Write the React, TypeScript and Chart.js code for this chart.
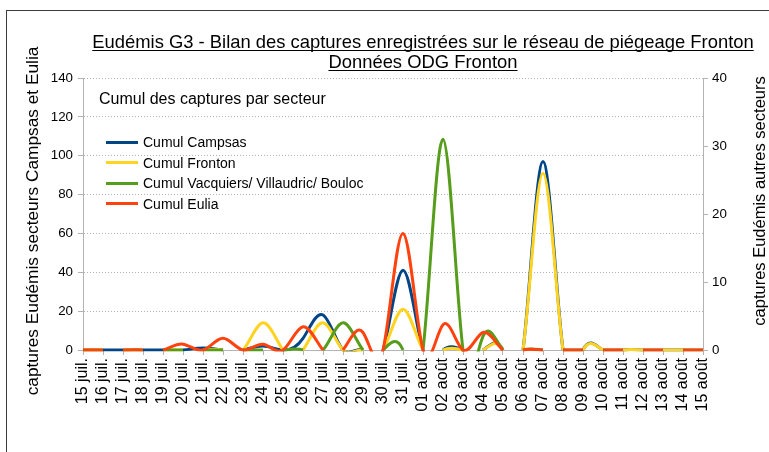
import React, { useEffect, useRef } from 'react';
import { Chart, registerables } from 'chart.js';

Chart.register(...registerables);

const FONT = '"Liberation Sans", Arial, Helvetica, sans-serif';

const titleLines = [
  'Eudémis G3 - Bilan des captures enregistrées sur le réseau de piégeage Fronton',
  'Données ODG Fronton',
];
const subtitle = 'Cumul des captures par secteur';
const leftAxisTitle = 'captures Eudémis secteurs Campsas et Eulia';
const rightAxisTitle = 'captures Eudémis autres secteurs';

const dates = [
  '15 juil.', '16 juil.', '17 juil.', '18 juil.', '19 juil.', '20 juil.', '21 juil.', '22 juil.',
  '23 juil.', '24 juil.', '25 juil.', '26 juil.', '27 juil.', '28 juil.', '29 juil.', '30 juil.',
  '31 juil.', '01 août', '02 août', '03 août', '04 août', '05 août', '06 août', '07 août',
  '08 août', '09 août', '10 août', '11 août', '12 août', '13 août', '14 août', '15 août',
];

// left axis (Campsas, Eulia)
const campsas = [0, 0, 0, 0, 0, 0, 1, 0, 0, 2, 0, 6, 18, 0, 0, 0, 41, 0, 0, 0, 0, 0, 0, 97, 0, 0, 0, 0, 0, 0, 0, 0];
const eulia = [0, 0, 0, 0, 0, 3, 0, 6, 0, 3, 0, 12, 0, 0, 9, 0, 60, 0, 13, 0, 9, 0, 0, 0, 0, 0, 0, 0, 0, 0, 0, 0];
// right axis (Fronton, Vacquiers)
const fronton = [0, 0, 0, 0, 0, 0, 0, 0, 0, 4, 0, 0, 4, 0, 0, 0, 6, 0, 0, 0, 0, 0, 0, 26, 0, 0, 0, 0, 0, 0, 0, 0];
const vacquiers = [0, 0, 0, 0, 0, 0, 0, 0, 0, 0, 0, 0, 0, 4, 0, 0, 0, 0, 31, 0, 2, 0, 0, 0, 0, 0, 0, 0, 0, 0, 0, 0];

const leftMax = 140;
const leftStep = 20;
const rightMax = 40;
const rightStep = 10;

const seriesNames = ['Cumul Campsas', 'Cumul Fronton', 'Cumul Vacquiers/ Villaudric/ Bouloc', 'Cumul Eulia'];
const seriesColors = ['#004586', '#ffd320', '#579d1c', '#ff420e'];

// natural cubic spline second derivatives (uniform spacing h)
function naturalM(y: number[], h: number): number[] {
  const n = y.length;
  const M = new Array(n).fill(0);
  if (n < 3) return M;
  const m = n - 2;
  const cp = new Array(m);
  const dp = new Array(m);
  const d: number[] = [];
  for (let i = 1; i <= n - 2; i++) d.push((6 * (y[i - 1] - 2 * y[i] + y[i + 1])) / (h * h));
  cp[0] = 1 / 4;
  dp[0] = d[0] / 4;
  for (let i = 1; i < m; i++) {
    const den = 4 - cp[i - 1];
    cp[i] = 1 / den;
    dp[i] = (d[i] - dp[i - 1]) / den;
  }
  const x = new Array(m);
  x[m - 1] = dp[m - 1];
  for (let i = m - 2; i >= 0; i--) x[i] = dp[i] - cp[i] * x[i + 1];
  for (let i = 0; i < m; i++) M[i + 1] = x[i];
  return M;
}

// spline segments lying entirely below the zero line are clipped away
function hiddenSegments(y: number[]): boolean[] {
  const M = naturalM(y, 1);
  const res: boolean[] = [];
  for (let k = 0; k < y.length - 1; k++) {
    let max = -Infinity;
    for (let s = 1; s < 50; s++) {
      const t = s / 50;
      const A = 1 - t;
      const B = t;
      const v = A * y[k] + B * y[k + 1] + ((A * A * A - A) * M[k] + (B * B * B - B) * M[k + 1]) / 6;
      if (v > max) max = v;
    }
    res.push(max <= 0 && y[k] === 0 && y[k + 1] === 0);
  }
  return res;
}

const naturalSplinePlugin = {
  id: 'naturalSpline',
  beforeDatasetDraw(chart: any, args: any) {
    const meta = args.meta;
    const line = meta.dataset;
    const pts = meta.data;
    if (!line || !pts || pts.length < 3) return;
    if (line.updateControlPoints) line.updateControlPoints(chart.chartArea, 'x');
    const ys = pts.map((p: any) => p.y);
    const h = pts[1].x - pts[0].x;
    const M = naturalM(ys, h);
    const n = ys.length;
    for (let i = 0; i < n; i++) {
      let D;
      if (i < n - 1) D = (ys[i + 1] - ys[i]) / h - (h * (2 * M[i] + M[i + 1])) / 6;
      else D = (ys[n - 1] - ys[n - 2]) / h + (h * (M[n - 2] + 2 * M[n - 1])) / 6;
      const p = pts[i];
      p.cp1x = p.x - h / 3;
      p.cp1y = p.y - (D * h) / 3;
      p.cp2x = p.x + h / 3;
      p.cp2y = p.y + (D * h) / 3;
    }
  },
};

const decorPlugin = {
  id: 'decor',
  beforeDraw(chart: any) {
    const ctx = chart.ctx;
    ctx.save();
    ctx.fillStyle = '#ffffff';
    ctx.fillRect(0, 0, chart.width, chart.height);
    ctx.strokeStyle = '#3c3c3c';
    ctx.lineWidth = 1;
    ctx.strokeRect(6.5, 10.5, 900, 900);
    ctx.restore();
  },
  afterDraw(chart: any) {
    const ctx = chart.ctx;
    ctx.save();
    // title
    ctx.fillStyle = '#000';
    ctx.strokeStyle = '#000';
    ctx.font = `18.4px ${FONT}`;
    ctx.textAlign = 'center';
    ctx.textBaseline = 'alphabetic';
    const tx = 423;
    const baselines = [48, 68];
    titleLines.forEach((t, i) => {
      ctx.fillText(t, tx, baselines[i]);
      const w = ctx.measureText(t).width;
      ctx.lineWidth = 1;
      ctx.beginPath();
      ctx.moveTo(tx - w / 2, baselines[i] + 2.5);
      ctx.lineTo(tx + w / 2, baselines[i] + 2.5);
      ctx.stroke();
    });
    // subtitle inside plot
    ctx.textAlign = 'left';
    ctx.font = `16px ${FONT}`;
    ctx.fillText(subtitle, 99, 104);
    // legend
    ctx.font = `14px ${FONT}`;
    chart.data.datasets.forEach((ds: any, i: number) => {
      const by = 147.3 + i * 20.4;
      const cy = Math.round(by - 5.5) + 0.5;
      ctx.strokeStyle = ds.borderColor;
      ctx.lineWidth = 3;
      ctx.beginPath();
      ctx.moveTo(106, cy);
      ctx.lineTo(138, cy);
      ctx.stroke();
      ctx.fillStyle = '#000';
      ctx.fillText(ds.label, 143, by);
    });
    // axis titles
    ctx.textAlign = 'center';
    ctx.font = `17.3px ${FONT}`;
    ctx.save();
    ctx.translate(38, 221);
    ctx.rotate(-Math.PI / 2);
    ctx.fillText(leftAxisTitle, 0, 0);
    ctx.restore();
    ctx.font = `16.5px ${FONT}`;
    ctx.save();
    ctx.translate(765, 201);
    ctx.rotate(-Math.PI / 2);
    ctx.fillText(rightAxisTitle, 0, 0);
    ctx.restore();
    ctx.restore();
  },
};

export default function App() {
  const ref = useRef<HTMLCanvasElement | null>(null);
  useEffect(() => {
    if (!ref.current) return;
    const series = [campsas, fronton, vacquiers, eulia];
    const axes = ['y', 'y1', 'y1', 'y'];
    const orders = [3, 2, 1, 0];
    const datasets = series.map((data, i) => {
      const hidden = hiddenSegments(data);
      return {
        label: seriesNames[i],
        data,
        yAxisID: axes[i],
        order: orders[i],
        borderColor: seriesColors[i],
        backgroundColor: seriesColors[i],
        borderWidth: 3,
        pointRadius: 0,
        pointHoverRadius: 0,
        tension: 0.4,
        fill: false,
        clip: { left: 2, right: 2, top: 2, bottom: 1.5 },
        segment: {
          borderColor: (c: any) => (hidden[c.p0DataIndex] ? 'rgba(0,0,0,0)' : undefined),
        },
      };
    });
    const tickFont = { family: FONT, size: 13.33 };
    const chart = new Chart(ref.current, {
      type: 'line',
      data: { labels: dates, datasets: datasets as any },
      plugins: [naturalSplinePlugin, decorPlugin],
      options: {
        animation: false,
        responsive: false,
        events: [],
        layout: { padding: { top: 78, left: 0, right: 0, bottom: 0 } },
        plugins: {
          legend: { display: false },
          title: { display: false },
          tooltip: { enabled: false },
        },
        scales: {
          x: {
            type: 'category',
            offset: false,
            afterFit: (s: any) => {
              s.height = 102;
            },
            grid: {
              display: true,
              drawOnChartArea: false,
              drawTicks: true,
              tickLength: 5,
              color: '#b3b3b3',
            },
            border: { display: true, color: '#b3b3b3', width: 1 },
            ticks: {
              autoSkip: false,
              maxRotation: 90,
              minRotation: 90,
              padding: 3,
              color: '#000',
              font: { family: FONT, size: 16 },
            },
          },
          y: {
            position: 'left',
            min: 0,
            max: leftMax,
            afterFit: (s: any) => {
              s.width = 83;
            },
            ticks: { stepSize: leftStep, padding: 5, color: '#000', font: tickFont },
            grid: {
              color: '#b3b3b3',
              lineWidth: 1,
              tickLength: 5,
              drawTicks: true,
              tickColor: '#b3b3b3',
            },
            border: { display: true, color: '#b3b3b3', width: 1, dash: [1, 2] },
          },
          y1: {
            position: 'right',
            min: 0,
            max: rightMax,
            afterFit: (s: any) => {
              s.width = 66;
            },
            ticks: { stepSize: rightStep, padding: 4, color: '#000', font: tickFont },
            grid: {
              drawOnChartArea: false,
              tickLength: 5,
              drawTicks: true,
              color: '#b3b3b3',
            },
            border: { display: true, color: '#b3b3b3', width: 1 },
          },
        },
      } as any,
    });
    return () => chart.destroy();
  }, []);
  return (
    <div style={{ position: 'fixed', left: 0, top: 0, width: 769, height: 452, background: '#fff' }}>
      <canvas ref={ref} width={769} height={452} style={{ display: 'block', width: 769, height: 452 }} />
    </div>
  );
}
